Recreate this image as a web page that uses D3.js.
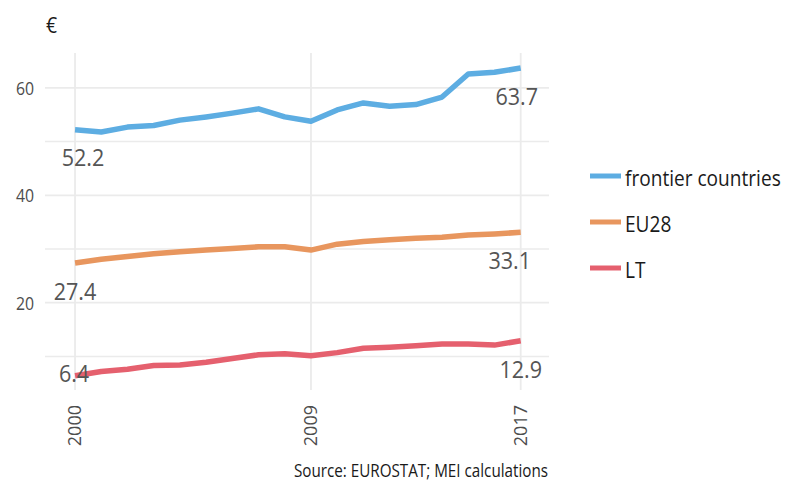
<!DOCTYPE html>
<html>
<head>
<meta charset="utf-8">
<script src="https://cdn.jsdelivr.net/npm/d3@7"></script>
<style>
  html, body { margin: 0; padding: 0; background: #fff; }
  svg { display: block; font-family: "Open Sans", "Noto Sans", sans-serif; }
</style>
</head>
<body>
<svg id="chart" width="802" height="483"></svg>
<script>
// ---- data ----
const years = [2000, 2001, 2002, 2003, 2004, 2005, 2006, 2007, 2008, 2009, 2010, 2011, 2012, 2013, 2014, 2015, 2016, 2017];
const frontier = [52.2, 51.8, 52.7, 53.0, 54.0, 54.6, 55.3, 56.1, 54.6, 53.8, 55.9, 57.2, 56.6, 56.9, 58.3, 62.6, 62.9, 63.7];
const eu28 = [27.4, 28.1, 28.6, 29.1, 29.5, 29.8, 30.1, 30.4, 30.4, 29.8, 30.9, 31.4, 31.7, 32.0, 32.2, 32.6, 32.8, 33.1];
const lt = [6.4, 7.2, 7.6, 8.3, 8.4, 8.9, 9.6, 10.3, 10.5, 10.1, 10.7, 11.5, 11.7, 12.0, 12.3, 12.3, 12.1, 12.9];
const seriesNames = ["frontier countries", "EU28", "LT"];
const xTicks = [2000, 2009, 2017];
const yTicks = [20, 40, 60];
const yMinor = [10, 30, 50];
const unitLabel = "€";
const sourceText = "Source: EUROSTAT; MEI calculations";

// ---- styles ----
const colors = ["#5dade2", "#e8965e", "#e5606e"];
const SX = 0.88; // horizontal condensing of text
const series = [frontier, eu28, lt];
// label offsets (px) for start / end labels
const labelOffsets = [
  { start: [8, 36], end: [-4, 37] },
  { start: [0, 37], end: [-11, 37] },
  { start: [-1, 6], end: [0, 37] }
];

const svg = d3.select("#chart");
svg.append("rect").attr("width", 802).attr("height", 483).attr("fill", "#fff");

const x = d3.scaleLinear().domain([1998.854, 2018.08]).range([45, 549]);
const y = d3.scaleLinear().domain([3.74, 66.5]).range([390, 53]);

function hText(g, tx, ty, txt, size, anchor, fill) {
  return g.append("text")
    .attr("transform", `translate(${tx},${ty}) scale(${SX},1)`)
    .attr("text-anchor", anchor)
    .attr("font-size", size)
    .attr("fill", fill)
    .text(txt);
}

// grid
const grid = svg.append("g");
grid.selectAll("line.hmin").data(yMinor).join("line")
  .attr("x1", x.range()[0]).attr("x2", x.range()[1])
  .attr("y1", d => y(d)).attr("y2", d => y(d))
  .attr("stroke", "#ebebeb").attr("stroke-width", 1.5);
grid.selectAll("line.hmaj").data(yTicks).join("line")
  .attr("x1", x.range()[0]).attr("x2", x.range()[1])
  .attr("y1", d => y(d)).attr("y2", d => y(d))
  .attr("stroke", "#ebebeb").attr("stroke-width", 1.8);
grid.selectAll("line.v").data(xTicks).join("line")
  .attr("x1", d => x(d)).attr("x2", d => x(d))
  .attr("y1", y.range()[1]).attr("y2", y.range()[0])
  .attr("stroke", "#ebebeb").attr("stroke-width", 1.8);

// y tick labels
yTicks.forEach(v => hText(svg, 34, y(v) + 7, String(v), 18, "end", "#4d4d4d"));

// x tick labels (rotated)
svg.selectAll("text.xt").data(xTicks).join("text")
  .attr("transform", d => `translate(${x(d) + 6},405) rotate(-90)`)
  .attr("text-anchor", "end")
  .attr("font-size", 18)
  .attr("fill", "#4d4d4d")
  .text(d => d);

// lines
const line = d3.line().x((d, i) => x(years[i])).y(d => y(d));
series.forEach((s, k) => {
  svg.append("path").datum(s)
    .attr("fill", "none")
    .attr("stroke", colors[k])
    .attr("stroke-width", 5.5)
    .attr("stroke-linejoin", "round")
    .attr("d", line);
});

// value labels
series.forEach((s, k) => {
  const o = labelOffsets[k];
  const n = s.length - 1;
  hText(svg, x(years[0]) + o.start[0], y(s[0]) + o.start[1], s[0].toFixed(1), 24.5, "middle", "#555");
  hText(svg, x(years[n]) + o.end[0], y(s[n]) + o.end[1], s[n].toFixed(1), 24.5, "middle", "#555");
});

// unit label
hText(svg, 46, 33, unitLabel, 22, "start", "#1a1a1a");

// legend
const lg = svg.append("g");
seriesNames.forEach((name, k) => {
  const ly = 176 + k * 46;
  lg.append("line").attr("x1", 590).attr("x2", 621).attr("y1", ly).attr("y2", ly)
    .attr("stroke", colors[k]).attr("stroke-width", 5);
  hText(lg, 625, ly + 9.5, name, 21.7, "start", "#1a1a1a");
});

// source
hText(svg, 548, 477, sourceText, 17.3, "end", "#1a1a1a");
</script>
</body>
</html>
